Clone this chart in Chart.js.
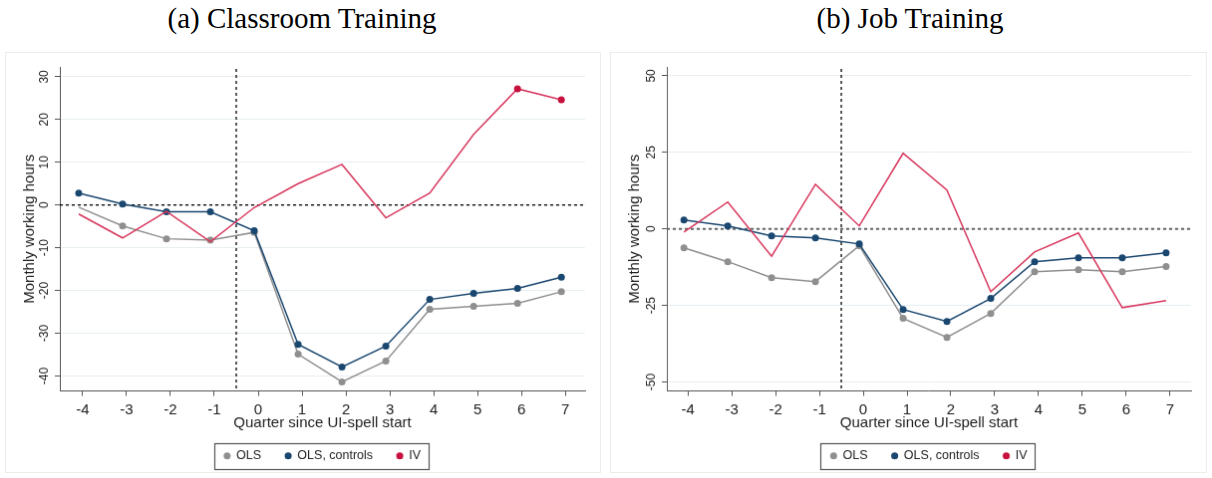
<!DOCTYPE html>
<html>
<head>
<meta charset="utf-8">
<script src="https://cdn.jsdelivr.net/npm/chart.js@4.4.1/dist/chart.umd.min.js"></script>
<style>
  body { margin: 0; background: #fff; width: 1212px; height: 478px; position: relative; overflow: hidden; }
  .title { position: absolute; top: 4px; font: 29px/29px "Liberation Serif", "Times New Roman", serif; text-align: center; color: #000; }
  canvas { position: absolute; border: 1px solid #ececec; }
</style>
</head>
<body>
<div class="title" style="left:0;width:604px">(a) Classroom Training</div>
<div class="title" style="left:610px;width:600px">(b) Job Training</div>
<canvas id="chartA" width="596" height="421" style="left:5px;top:52px"></canvas>
<canvas id="chartB" width="597" height="421" style="left:610px;top:52px"></canvas>
<script>
const quarters = [-4, -3, -2, -1, 0, 1, 2, 3, 4, 5, 6, 7];
const eventQuarter = -0.5;

// (a) Classroom Training
const olsA  = [-0.5, -4.9, -7.9, -8.2, -6.4, -34.9, -41.4, -36.5, -24.4, -23.7, -23.0, -20.3];
const ctrlA = [2.8, 0.2, -1.6, -1.6, -6.0, -32.6, -37.9, -33.0, -22.1, -20.7, -19.5, -16.9];
const ivA   = [-2.1, -7.7, -1.5, -8.6, -0.6, 5.0, 9.5, -3.0, 2.8, 16.5, 27.2, 24.6];
const yTicksA = [-40, -30, -20, -10, 0, 10, 20, 30];

// (b) Job Training
const olsB  = [-6.2, -10.7, -15.9, -17.2, -5.5, -29.2, -35.4, -27.6, -14.0, -13.3, -14.0, -12.3];
const ctrlB = [2.9, 1.0, -2.3, -2.9, -4.9, -26.3, -30.2, -22.7, -10.7, -9.4, -9.4, -7.8];
const ivB   = [-1.0, 8.8, -8.9, 14.6, 1.0, 24.7, 12.7, -20.5, -7.5, -1.3, -25.7, -23.4];
const yTicksB = [-50, -25, 0, 25, 50];

const colors = { ols: "#8f8f8f", ctrl: "#1a476f", ivLine: "#d7385e", ivDot: "#c8103e" };
const sans = '"Liberation Sans", Arial, sans-serif';
const markerShift = -0.09; // stata draws the markers a little left of the tick

function points(vals) {
  return quarters.map((q, i) => ({ x: q + markerShift, y: vals[i] }));
}

function dataset(label, vals, line, dot, radius, order) {
  return {
    label: label,
    data: points(vals),
    borderColor: line,
    backgroundColor: dot,
    pointBackgroundColor: dot,
    pointBorderWidth: 0,
    pointRadius: radius,
    pointHoverRadius: radius,
    borderWidth: 1.5,
    tension: 0,
    order: order,
  };
}

// dashed zero line and the UI-spell start line
const refLines = {
  id: "refLines",
  beforeDatasetsDraw(chart, args, opts) {
    const { ctx, chartArea: a, scales: { x, y } } = chart;
    ctx.save();
    ctx.setLineDash([3, 3]);
    const y0 = y.getPixelForValue(0);
    ctx.strokeStyle = opts.zeroColor;
    ctx.lineWidth = opts.zeroWidth;
    ctx.beginPath();
    ctx.moveTo(a.left, y0);
    ctx.lineTo(a.right, y0);
    ctx.stroke();
    const xv = x.getPixelForValue(eventQuarter);
    ctx.strokeStyle = "#000";
    ctx.lineWidth = 1.3;
    ctx.beginPath();
    ctx.moveTo(xv, a.top + 2);
    ctx.lineTo(xv, a.bottom);
    ctx.stroke();
    ctx.restore();
  },
};

// vertical y tick labels
const sideLabels = {
  id: "sideLabels",
  afterDraw(chart) {
    const s = chart.scales.y;
    const ctx = chart.ctx;
    ctx.save();
    ctx.font = "12px " + sans;
    ctx.fillStyle = "#222";
    ctx.textAlign = "center";
    ctx.textBaseline = "middle";
    s.ticks.forEach((t) => {
      const y = s.getPixelForValue(t.value);
      ctx.save();
      ctx.translate(s.right - 15, y);
      ctx.rotate(-Math.PI / 2);
      ctx.fillText(String(t.value), 0, 0);
      ctx.restore();
    });
    ctx.restore();
  },
};

// frame round the legend
const legendBox = {
  id: "legendBox",
  afterDraw(chart) {
    const boxes = chart.legend.legendHitBoxes;
    if (!boxes || !boxes.length) return;
    const left = Math.min(...boxes.map((b) => b.left)) - 10;
    const right = Math.max(...boxes.map((b) => b.left + b.width)) + 8;
    const cy = boxes[0].top + boxes[0].height / 2;
    const ctx = chart.ctx;
    ctx.save();
    ctx.strokeStyle = "#555";
    ctx.lineWidth = 1.2;
    ctx.strokeRect(Math.round(left) + 0.5, Math.round(cy - 13) + 0.5, Math.round(right - left), 26);
    ctx.restore();
  },
};

function makeChart(id, cfg) {
  return new Chart(document.getElementById(id), {
    type: "line",
    data: {
      datasets: [
        dataset("OLS", cfg.ols, colors.ols, colors.ols, cfg.olsRadius, 3),
        dataset("OLS, controls", cfg.ctrl, colors.ctrl, colors.ctrl, 3.5, 2),
        dataset("IV", cfg.iv, colors.ivLine, colors.ivDot, cfg.ivRadius, 1),
      ],
    },
    plugins: [refLines, sideLabels, legendBox],
    options: {
      responsive: false,
      animation: false,
      events: [],
      layout: { padding: { top: 14, right: 15, bottom: 0, left: 0 } },
      scales: {
        x: {
          type: "linear",
          min: cfg.xMin,
          max: cfg.xMax,
          afterBuildTicks: (s) => { s.ticks = quarters.map((v) => ({ value: v })); },
          afterFit: (s) => { s.height = 35; },
          ticks: {
            autoSkip: false,
            maxRotation: 0,
            padding: 5,
            color: "#222",
            font: { family: sans, size: 15 },
            callback: (v) => String(v),
          },
          grid: { drawOnChartArea: false, tickLength: 5, tickColor: "#555" },
          border: { color: "#555", width: 1 },
          title: {
            display: true,
            text: "Quarter since UI-spell start",
            color: "#222",
            font: { family: sans, size: 15 },
            padding: { top: 0, bottom: -6 },
          },
        },
        y: {
          min: cfg.yMin,
          max: cfg.yMax,
          afterBuildTicks: (s) => { s.ticks = cfg.yTicks.map((v) => ({ value: v })); },
          afterFit: (s) => { s.width = cfg.yWidth; },
          ticks: { display: false },
          grid: { color: "#e6eef2", lineWidth: 1, tickLength: 5, tickColor: "#555" },
          border: { color: "#555", width: 1 },
          title: {
            display: true,
            text: "Monthly working hours",
            color: "#222",
            font: { family: sans, size: 15 },
            padding: { top: 15, bottom: 0 },
          },
        },
      },
      plugins: {
        refLines: { zeroColor: cfg.zeroColor, zeroWidth: cfg.zeroWidth },
        tooltip: { enabled: false },
        legend: {
          position: "bottom",
          fullSize: false,
          labels: {
            usePointStyle: true,
            pointStyle: "circle",
            boxWidth: 6,
            boxHeight: 5,
            padding: 24,
            color: "#222",
            font: { family: sans, size: 12.5 },
            sort: (a, b) => a.datasetIndex - b.datasetIndex,
          },
        },
      },
    },
  });
}

makeChart("chartA", {
  ols: olsA, ctrl: ctrlA, iv: ivA,
  olsRadius: [0, 3.5, 3.5, 3.5, 3.5, 3.5, 3.5, 3.5, 3.5, 3.5, 3.5, 3.5],
  ivRadius: [0, 0, 0, 0, 0, 0, 0, 0, 0, 0, 3.5, 3.5],
  yTicks: yTicksA, yMin: -43.5, yMax: 32.3,
  xMin: -4.52, xMax: 7.45, yWidth: 54,
  zeroColor: "#000", zeroWidth: 1.3,
});

makeChart("chartB", {
  ols: olsB, ctrl: ctrlB, iv: ivB,
  olsRadius: 3.5,
  ivRadius: 0,
  yTicks: yTicksB, yMin: -52.9, yMax: 52.9,
  xMin: -4.48, xMax: 7.48, yWidth: 56,
  zeroColor: "#666", zeroWidth: 2,
});
</script>
</body>
</html>
